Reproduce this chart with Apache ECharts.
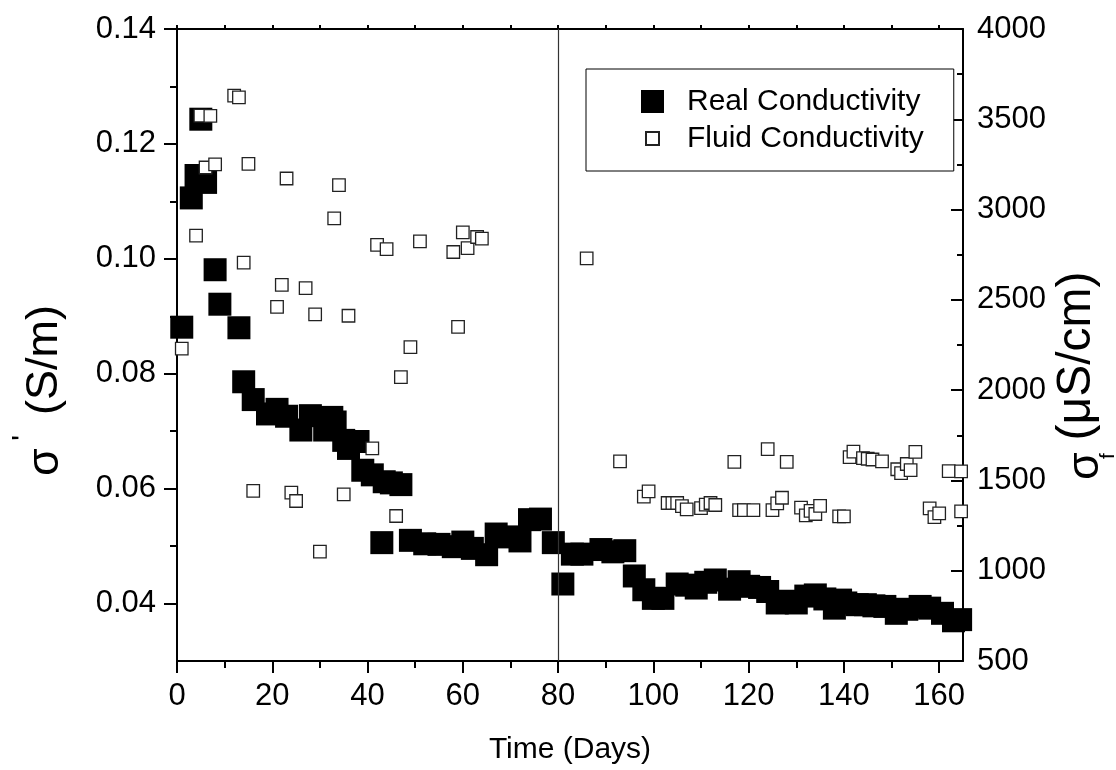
<!DOCTYPE html>
<html><head><meta charset="utf-8">
<script src="https://cdn.jsdelivr.net/npm/echarts@6/dist/echarts.min.js"></script>
<style>html,body{margin:0;padding:0;background:#fff}#chart{width:1116px;height:770px}</style>
</head><body><div id="chart"></div>
<script>
// ---- data ----
const realDays = [1, 3, 4, 5, 6, 8, 9, 13, 14, 16, 19, 21, 23, 26, 28, 31, 32.5, 33.2, 35, 36, 38, 39, 41, 43, 43.5, 45, 47,
  49, 52, 55, 58, 60, 62, 65, 67, 69.5, 72, 74, 76.3, 79, 81, 83, 85, 89, 91.5, 94, 96, 98, 100, 102,
  105, 107, 109, 111, 113, 116, 118, 120, 122.3, 124, 126, 128, 130, 132, 134, 136, 138, 139.3, 140.4,
  142.8, 144.5, 146.3, 148.6, 151, 153.2, 156, 158, 160.7, 163, 164.5];
const realValues = [0.0881, 0.1106, 0.1145, 0.1243, 0.1133, 0.0981, 0.0921, 0.0880, 0.0786, 0.0755, 0.0730, 0.0738, 0.0726,
  0.0702, 0.0727, 0.0702, 0.0724, 0.0716, 0.0684, 0.0670, 0.0682, 0.0632, 0.0624, 0.0506, 0.0612, 0.0610, 0.0607,
  0.0510, 0.0504, 0.0503, 0.0499, 0.0507, 0.0496, 0.0485, 0.0521, 0.0516, 0.0509, 0.0546, 0.0547, 0.0506,
  0.0434, 0.0486, 0.0486, 0.0494, 0.0490, 0.0492, 0.0448, 0.0424, 0.0409, 0.0409,
  0.0434, 0.0432, 0.0427, 0.0437, 0.0441, 0.0425, 0.0438, 0.0430, 0.0428, 0.0421, 0.0401, 0.0404, 0.0401,
  0.0413, 0.0415, 0.0408, 0.0392, 0.0406, 0.0401, 0.0398, 0.0398, 0.0396, 0.0395, 0.0383, 0.0390, 0.0395,
  0.0392, 0.0383, 0.0370, 0.0372];
const fluidDays = [1, 4, 4.9, 6, 7, 8, 12, 13, 14, 15, 16, 21, 22, 23, 24, 25, 27, 29, 30, 33, 34, 35, 36, 41, 42, 44,
  46, 47, 49, 51, 58, 59, 60, 61, 63, 64, 86, 93, 98, 99, 103, 104, 105, 106, 107, 110, 111, 112, 113,
  117, 118, 119, 121, 124, 125, 126, 127, 128, 131, 132, 133, 134, 135, 139, 140, 141.2, 142, 144, 145,
  146, 148, 151.2, 152, 153.2, 154, 155, 158, 159, 160, 162, 164.6, 164.6];
const fluidValues = [2230, 2856, 3520, 3233, 3519, 3250, 3631, 3621, 2706, 3253, 1442, 2461, 2583, 3172, 1432, 1386,
  2565, 2420, 1106, 2951, 3135, 1423, 2412, 1677, 2805, 2781, 1303, 2072, 2238, 2824, 2765, 2350, 2874,
  2787, 2848, 2839, 2730, 1606, 1410, 1439, 1375, 1375, 1375, 1358, 1340, 1347, 1366, 1375, 1364,
  1603, 1336, 1336, 1336, 1673, 1336, 1373, 1404, 1603, 1349, 1307, 1331, 1314, 1359, 1301, 1301, 1629,
  1660, 1623, 1620, 1616, 1605, 1562, 1541, 1591, 1557, 1658, 1345, 1297, 1318, 1551, 1550, 1329];
const xTickLabels = [0, 20, 40, 60, 80, 100, 120, 140, 160];
const topTickValues = [0, 10, 20, 30, 40, 50, 60, 70, 80, 90, 100, 110, 120, 130, 140, 150, 160];
const leftTickLabels = [0.04, 0.06, 0.08, 0.10, 0.12, 0.14];
const rightTickLabels = [500, 1000, 1500, 2000, 2500, 3000, 3500, 4000];
const markerDay = 80;
const seriesNames = ['Real Conductivity', 'Fluid Conductivity'];

const FONT = '"Liberation Sans", Arial, Helvetica, sans-serif';
const realData = realDays.map((d, i) => [d, realValues[i]]);
const fluidData = fluidDays.map((d, i) => [d, fluidValues[i]]);
const axisLine = {show: true, onZero: false, lineStyle: {color: '#000', width: 2}};
const tickStyle = {color: '#000', width: 2};
const LABEL_SIZE = 31;

const chart = echarts.init(document.getElementById('chart'), null, {renderer: 'canvas'});
chart.setOption({
  animation: false,
  backgroundColor: '#fff',
  textStyle: {fontFamily: FONT},
  grid: {left: 177, right: 153, top: 29, bottom: 107, containLabel: false},
  xAxis: [{
    type: 'value', position: 'bottom', min: 0, max: 165, interval: 20,
    axisLine: axisLine,
    axisTick: {show: true, length: 12, lineStyle: tickStyle, customValues: xTickLabels},
    minorTick: {show: true, splitNumber: 2, length: 7, lineStyle: tickStyle},
    axisLabel: {show: true, margin: 20, fontSize: LABEL_SIZE, color: '#000', fontFamily: FONT,
      customValues: xTickLabels, formatter: v => String(v)},
    splitLine: {show: false},
    name: 'Time (Days)', nameLocation: 'middle', nameGap: 74,
    nameTextStyle: {fontSize: 30, color: '#000', fontFamily: FONT}
  }, {
    type: 'value', position: 'top', min: 0, max: 165, interval: 10,
    axisLine: axisLine,
    axisTick: {show: true, length: 4, lineStyle: tickStyle, customValues: topTickValues},
    axisLabel: {show: false},
    splitLine: {show: false}
  }],
  yAxis: [{
    type: 'value', position: 'left', min: 0.03, max: 0.14, splitNumber: 5,
    axisLine: axisLine,
    axisTick: {show: true, length: 13, lineStyle: tickStyle, customValues: leftTickLabels},
    minorTick: {show: true, splitNumber: 2, length: 7, lineStyle: tickStyle},
    axisLabel: {show: true, margin: 21, fontSize: LABEL_SIZE, color: '#000', fontFamily: FONT,
      customValues: leftTickLabels, formatter: v => Number(v).toFixed(2)},
    splitLine: {show: false}
  }, {
    type: 'value', position: 'right', min: 500, max: 4000, interval: 500,
    axisLine: axisLine,
    axisTick: {show: true, inside: true, length: 12, lineStyle: tickStyle, customValues: rightTickLabels},
    minorTick: {show: true, splitNumber: 2, length: 6, lineStyle: tickStyle},
    axisLabel: {show: true, margin: 14, fontSize: LABEL_SIZE, color: '#000', fontFamily: FONT,
      customValues: rightTickLabels, formatter: v => String(Math.round(v))},
    splitLine: {show: false}
  }],
  legend: {
    show: true, orient: 'vertical', left: 586, top: 69,
    padding: [17.5, 30, 17.5, 54], itemGap: 7, itemWidth: 23, itemHeight: 23,
    borderColor: '#000', borderWidth: 1, backgroundColor: '#fff',
    textStyle: {fontSize: 30, color: '#000', fontFamily: FONT, padding: [0, 0, 0, 18]},
    data: [
      {name: seriesNames[0], icon: 'rect'},
      {name: seriesNames[1], icon: 'path://M0,0M23,23M5,5L18,5L18,18L5,18Z'}
    ]
  },
  series: [{
    name: seriesNames[0], type: 'scatter', xAxisIndex: 0, yAxisIndex: 0,
    symbol: 'rect', symbolSize: 23,
    itemStyle: {color: '#000', opacity: 1},
    data: realData,
    markLine: {
      silent: true, symbol: ['none', 'none'], label: {show: false},
      lineStyle: {color: '#333', width: 1.2, type: 'solid'},
      data: [{xAxis: markerDay}]
    }
  }, {
    name: seriesNames[1], type: 'scatter', xAxisIndex: 0, yAxisIndex: 1,
    symbol: 'rect', symbolSize: 12.5,
    itemStyle: {color: '#fff', borderColor: '#222', borderWidth: 1.3, opacity: 1},
    data: fluidData
  }],
  graphic: [
    {type: 'text', x: 46, y: 462, rotation: Math.PI / 2,
      style: {text: 'σ', fontSize: 45, fontFamily: FONT, fill: '#000', align: 'center', verticalAlign: 'middle', textAlign: 'center', textVerticalAlign: 'middle'}},
    {type: 'text', x: 24, y: 438, rotation: Math.PI / 2,
      style: {text: "'", fontSize: 30, fontFamily: FONT, fill: '#000', align: 'center', verticalAlign: 'middle', textAlign: 'center', textVerticalAlign: 'middle'}},
    {type: 'text', x: 44.5, y: 360, rotation: Math.PI / 2,
      style: {text: '(S/m)', fontSize: 45, fontFamily: FONT, fill: '#000', align: 'center', verticalAlign: 'middle', textAlign: 'center', textVerticalAlign: 'middle'}},
    {type: 'text', x: 1086, y: 466, rotation: Math.PI / 2,
      style: {text: 'σ', fontSize: 45, fontFamily: FONT, fill: '#000', align: 'center', verticalAlign: 'middle', textAlign: 'center', textVerticalAlign: 'middle'}},
    {type: 'text', x: 1108, y: 456, rotation: Math.PI / 2,
      style: {text: 'f', fontSize: 21, fontFamily: FONT, fill: '#000', align: 'center', verticalAlign: 'middle', textAlign: 'center', textVerticalAlign: 'middle'}},
    {type: 'text', x: 1077, y: 356, rotation: Math.PI / 2,
      style: {text: '(μS/cm)', fontSize: 48, fontFamily: FONT, fill: '#000', align: 'center', verticalAlign: 'middle', textAlign: 'center', textVerticalAlign: 'middle'}}
  ]
});
</script>
</body></html>
